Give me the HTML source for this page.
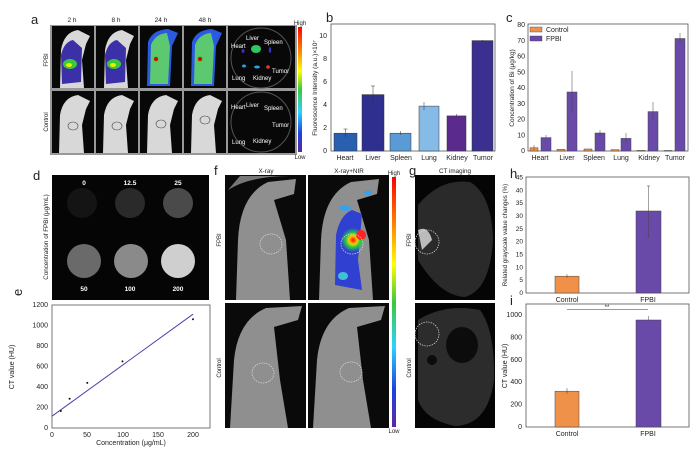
<!DOCTYPE html>
<html><head><meta charset="utf-8"><style>
html,body{margin:0;padding:0;background:#fff;}
svg{display:block;font-family:"Liberation Sans",Arial,sans-serif;}
</style></head><body>
<svg width="700" height="453" viewBox="0 0 700 453" xmlns="http://www.w3.org/2000/svg">
<defs>
<linearGradient id="cb" x1="0" y1="0" x2="0" y2="1">
<stop offset="0" stop-color="#ff0000"/><stop offset="0.2" stop-color="#ff8c00"/><stop offset="0.35" stop-color="#ffff00"/><stop offset="0.5" stop-color="#3cc83c"/><stop offset="0.68" stop-color="#2ad4ff"/><stop offset="0.85" stop-color="#2040e0"/><stop offset="1" stop-color="#5a2aa0"/>
</linearGradient>
<radialGradient id="hot" cx="0.5" cy="0.5" r="0.5"><stop offset="0" stop-color="#d00"/><stop offset="0.25" stop-color="#ff0"/><stop offset="0.5" stop-color="#3c3"/><stop offset="1" stop-color="#5c5" stop-opacity="0"/></radialGradient>
<radialGradient id="hot2" cx="0.5" cy="0.5" r="0.5"><stop offset="0" stop-color="#f00"/><stop offset="0.35" stop-color="#fc0"/><stop offset="0.6" stop-color="#2c4"/><stop offset="1" stop-color="#2c4" stop-opacity="0"/></radialGradient>
</defs>
<g font-size="7" fill="#222">
<!-- panel a -->
<text x="31" y="24" font-size="13">a</text>
<text x="72" y="22" text-anchor="middle" font-size="6.5">2 h</text>
<text x="116" y="22" text-anchor="middle" font-size="6.5">8 h</text>
<text x="161" y="22" text-anchor="middle" font-size="6.5">24 h</text>
<text x="205" y="22" text-anchor="middle" font-size="6.5">48 h</text>
<rect x="50" y="25" width="247" height="130" fill="#999"/>
<g fill="#080808">
<rect x="52" y="26" width="42" height="62"/><rect x="96" y="26" width="42" height="62"/><rect x="140" y="26" width="42" height="62"/><rect x="184" y="26" width="42" height="62"/><rect x="228" y="26" width="67" height="62"/>
<rect x="52" y="91" width="42" height="62"/><rect x="96" y="91" width="42" height="62"/><rect x="140" y="91" width="42" height="62"/><rect x="184" y="91" width="42" height="62"/><rect x="228" y="91" width="67" height="62"/>
</g>
<g fill="#d8d8d8">
<path d="M60 88 L61 50 Q64 32 78 30 L90 36 L86 44 L82 60 L84 88 Z"/>
<path d="M104 88 L105 50 Q108 32 122 30 L134 36 L130 44 L126 60 L128 88 Z"/>
<path d="M59 153 L60 115 Q63 97 78 95 L90 101 L86 109 L82 125 L84 153 Z"/>
<path d="M103 153 L104 115 Q107 97 122 95 L134 101 L130 109 L126 125 L128 153 Z"/>
<path d="M147 153 L148 115 Q151 97 166 95 L178 101 L174 109 L170 125 L172 153 Z"/>
<path d="M191 153 L192 115 Q195 97 210 95 L222 101 L218 109 L214 125 L216 153 Z"/>
</g>
<g fill="#3b30a8">
<path d="M62 84 L61 55 Q64 42 73 40 L82 48 L81 82 Z"/>
<path d="M106 84 L105 55 Q108 42 117 40 L126 48 L125 82 Z"/>
<path d="M147 86 L148 42 Q152 30 168 29 L178 33 L172 46 L170 86 Z" fill="#2a5ae0"/>
<path d="M191 86 L192 42 Q196 30 212 29 L222 33 L216 46 L214 86 Z" fill="#2a5ae0"/>
</g>
<ellipse cx="70" cy="64" rx="7" ry="5" fill="#3cc83c"/><ellipse cx="69" cy="65" rx="3" ry="2" fill="#ee0"/>
<ellipse cx="114" cy="64" rx="7" ry="5" fill="#3cc83c"/><ellipse cx="113" cy="65" rx="3" ry="2" fill="#ee0"/>
<path d="M150 84 L151 45 Q155 34 167 33 L170 46 L168 84 Z" fill="#5cc870"/>
<path d="M194 84 L195 45 Q199 34 211 33 L214 46 L212 84 Z" fill="#5cc870"/>
<circle cx="156" cy="59" r="4" fill="url(#hot)"/><circle cx="156" cy="59" r="2" fill="#d00"/>
<circle cx="200" cy="59" r="4" fill="url(#hot)"/><circle cx="200" cy="59" r="2" fill="#d00"/>
<g fill="none" stroke="#444" stroke-width="0.6">
<ellipse cx="73" cy="126" rx="5" ry="4"/><ellipse cx="117" cy="126" rx="5" ry="4"/><ellipse cx="161" cy="124" rx="5" ry="4"/><ellipse cx="205" cy="120" rx="5" ry="4"/>
</g>
<circle cx="261" cy="58" r="30" fill="none" stroke="#555" stroke-width="1"/>
<circle cx="261" cy="122" r="30" fill="none" stroke="#555" stroke-width="1"/>
<ellipse cx="256" cy="49" rx="5" ry="4" fill="#2ec860"/><ellipse cx="243" cy="51" rx="1.5" ry="2" fill="#3b30c0"/><ellipse cx="270" cy="50" rx="1.3" ry="3" fill="#3b30c0"/>
<ellipse cx="244" cy="66" rx="2" ry="1.5" fill="#2aa0e0"/><ellipse cx="257" cy="67" rx="3" ry="1.5" fill="#2aa0e0"/><circle cx="268" cy="67" r="1.8" fill="#e33"/>
<g fill="#fff" font-size="6">
<text x="246" y="40">Liver</text><text x="264" y="44">Spleen</text><text x="231" y="48">Heart</text><text x="272" y="73">Tumor</text><text x="232" y="80">Lung</text><text x="253" y="80">Kidney</text>
<text x="231" y="109">Heart</text><text x="246" y="107">Liver</text><text x="264" y="110">Spleen</text><text x="272" y="127">Tumor</text><text x="232" y="144">Lung</text><text x="253" y="143">Kidney</text>
</g>
<rect x="298" y="27" width="4" height="125" fill="url(#cb)"/>
<text x="300" y="25" text-anchor="middle" font-size="6">High</text>
<text x="300" y="159" text-anchor="middle" font-size="6">Low</text>
<text transform="translate(48,60) rotate(-90)" text-anchor="middle" font-size="6">FPBI</text>
<text transform="translate(48,122) rotate(-90)" text-anchor="middle" font-size="6">Control</text>

<!-- panel b -->
<text x="326" y="22" font-size="13">b</text>
<rect x="331" y="24" width="164" height="127" fill="none" stroke="#555" stroke-width="0.8"/>
<g font-size="7" text-anchor="end">
<text x="327" y="153">0</text><text x="327" y="130">2</text><text x="327" y="107">4</text><text x="327" y="84">6</text><text x="327" y="61">8</text><text x="327" y="38">10</text>
</g>
<text transform="translate(317,88) rotate(-90)" text-anchor="middle" font-size="6.5">Fluorescence Intensity (a.u.)×10⁷</text>
<g stroke="#333" stroke-width="0.5">
<rect x="334" y="133.2" width="23" height="17.8" fill="#2a5fb0"/>
<rect x="362" y="94.6" width="22" height="56.4" fill="#2e2f8e"/>
<rect x="390" y="133.2" width="21" height="17.8" fill="#5b9bd5"/>
<rect x="419" y="106.1" width="20" height="44.9" fill="#85bbe6"/>
<rect x="447" y="115.9" width="19" height="35.1" fill="#5a2a8c"/>
<rect x="472" y="40.6" width="21" height="110.4" fill="#3b2f8f"/>
<path d="M345.5 129v8M343.5 129h4M373 86v17M371 86h4M400.5 131v4M424 102v8M456.5 114v3M482.5 40v2"/>
</g>
<g font-size="7" text-anchor="middle">
<text x="345" y="160">Heart</text><text x="373" y="160">Liver</text><text x="401" y="160">Spleen</text><text x="429" y="160">Lung</text><text x="457" y="160">Kidney</text><text x="483" y="160">Tumor</text>
</g>

<!-- panel c -->
<text x="506" y="22" font-size="13">c</text>
<rect x="528" y="24" width="160" height="127" fill="none" stroke="#555" stroke-width="0.8"/>
<g font-size="7" text-anchor="end">
<text x="525" y="153">0</text><text x="525" y="137.5">10</text><text x="525" y="121.6">20</text><text x="525" y="106">30</text><text x="525" y="90">40</text><text x="525" y="74.5">50</text><text x="525" y="58.7">60</text><text x="525" y="43">70</text><text x="525" y="27">80</text>
</g>
<text transform="translate(514,88) rotate(-90)" text-anchor="middle" font-size="6.5">Concentration of Bi (μg/kg)</text>
<g stroke="#444" stroke-width="0.5">
<rect x="530" y="147.8" width="8" height="3.2" fill="#f0914a"/>
<rect x="557" y="149.4" width="8" height="1.6" fill="#f0914a"/>
<rect x="584" y="149" width="8" height="2" fill="#f0914a"/>
<rect x="611" y="149.7" width="8" height="1.3" fill="#f0914a"/>
<rect x="637" y="150.4" width="8" height="0.6" fill="#f0914a"/>
<rect x="664" y="150.5" width="8" height="0.5" fill="#f0914a"/>
<rect x="541" y="137.6" width="10" height="13.4" fill="#6a4aa8"/>
<rect x="567" y="92" width="10" height="59" fill="#6a4aa8"/>
<rect x="595" y="133" width="10" height="18" fill="#6a4aa8"/>
<rect x="621" y="138.4" width="10" height="12.6" fill="#6a4aa8"/>
<rect x="648" y="111.6" width="10" height="39.4" fill="#6a4aa8"/>
<rect x="675" y="38.5" width="10" height="112.5" fill="#6a4aa8"/>
<path d="M546 135v4M572 71v42M600 130v6M626 133v10M653 102v19M680 33v10M534 145v5"/>
</g>
<rect x="530" y="27" width="12" height="5" fill="#f0914a" stroke="#444" stroke-width="0.4"/><text x="546" y="32" font-size="7">Control</text>
<rect x="530" y="36" width="12" height="5" fill="#6a4aa8" stroke="#444" stroke-width="0.4"/><text x="546" y="41" font-size="7">FPBI</text>
<g font-size="7" text-anchor="middle">
<text x="540" y="160">Heart</text><text x="567" y="160">Liver</text><text x="594" y="160">Spleen</text><text x="621" y="160">Lung</text><text x="649" y="160">Kidney</text><text x="675" y="160">Tumor</text>
</g>

<!-- panel d -->
<text x="33" y="180" font-size="13">d</text>
<rect x="52" y="175" width="157" height="125" fill="#050505"/>
<circle cx="82" cy="203" r="15" fill="#141414"/>
<circle cx="130" cy="203" r="15" fill="#2a2a2a"/>
<circle cx="178" cy="203" r="15" fill="#4a4a4a"/>
<circle cx="84" cy="261" r="17" fill="#6a6a6a"/>
<circle cx="131" cy="261" r="17" fill="#8a8a8a"/>
<circle cx="178" cy="261" r="17" fill="#cfcfcf"/>
<g fill="#fff" font-size="6.5" font-weight="bold" text-anchor="middle">
<text x="84" y="185">0</text><text x="130" y="185">12.5</text><text x="178" y="185">25</text>
<text x="84" y="291">50</text><text x="130" y="291">100</text><text x="178" y="291">200</text>
</g>
<text transform="translate(48,237) rotate(-90)" text-anchor="middle" font-size="6.3">Concentration of FPBI  (μg/mL)</text>

<!-- panel e -->
<text transform="translate(22,296) rotate(-90)" font-size="13">e</text>
<rect x="52" y="305" width="158" height="123" fill="none" stroke="#555" stroke-width="0.8"/>
<g font-size="7" text-anchor="end">
<text x="48" y="430">0</text><text x="48" y="409.5">200</text><text x="48" y="389">400</text><text x="48" y="368.5">600</text><text x="48" y="348">800</text><text x="48" y="327.5">1000</text><text x="48" y="307">1200</text>
</g>
<g font-size="7" text-anchor="middle">
<text x="52" y="437">0</text><text x="87" y="437">50</text><text x="123" y="437">100</text><text x="158" y="437">150</text><text x="193" y="437">200</text>
</g>
<text x="131" y="445" text-anchor="middle" font-size="7">Concentration (μg/mL)</text>
<text transform="translate(14,367) rotate(-90)" text-anchor="middle" font-size="7">CT value (HU)</text>
<line x1="52" y1="416.2" x2="193" y2="314.2" stroke="#4b3fb0" stroke-width="1"/>
<g fill="#111"><circle cx="60.8" cy="411" r="1"/><circle cx="69.6" cy="398.8" r="1"/><circle cx="87.3" cy="382.9" r="1"/><circle cx="122.5" cy="361.4" r="1"/><circle cx="193" cy="319.3" r="1"/></g>

<!-- panel f -->
<text x="214" y="175" font-size="13">f</text>
<text x="266" y="173" text-anchor="middle" font-size="6.3">X-ray</text>
<text x="349" y="173" text-anchor="middle" font-size="6.3">X-ray+NIR</text>
<g fill="#0a0a0a"><rect x="225" y="175" width="81" height="125"/><rect x="308" y="175" width="81" height="125"/><rect x="225" y="303" width="81" height="125"/><rect x="308" y="303" width="81" height="125"/></g>
<g fill="#8f8f8f">
<path d="M236 300 L238 240 Q240 195 268 182 L296 179 L294 194 L274 200 L286 240 L290 300 Z"/>
<path d="M319 300 L321 240 Q323 195 351 182 L379 179 L377 194 L357 200 L369 240 L373 300 Z"/>
<path d="M230 428 L234 360 Q238 320 266 308 L302 306 L298 320 L274 327 L280 380 L288 428 Z"/>
<path d="M313 428 L317 360 Q321 320 349 308 L385 306 L381 320 L357 327 L363 380 L371 428 Z"/>
</g>
<path d="M228 190 Q250 176 290 176 L240 176 Z" fill="#777"/>
<path d="M335 285 L336 235 Q340 215 352 210 L362 214 L358 260 L362 290 Z" fill="#3040d0"/>
<ellipse cx="353" cy="240" rx="12" ry="12" fill="url(#hot2)"/>
<ellipse cx="361" cy="235" rx="5" ry="5" fill="#f22"/>
<ellipse cx="343" cy="276" rx="5" ry="4" fill="#40c0d0"/>
<ellipse cx="345" cy="208" rx="6" ry="3" fill="#3aa0e8"/>
<ellipse cx="368" cy="193" rx="4" ry="2.5" fill="#3aa0e8"/>
<g fill="none" stroke="#ddd" stroke-width="0.7" stroke-dasharray="1.5,1">
<ellipse cx="271" cy="244" rx="11" ry="10"/><ellipse cx="352" cy="244" rx="11" ry="10"/>
<ellipse cx="263" cy="373" rx="11" ry="10"/><ellipse cx="351" cy="372" rx="11" ry="10"/>
</g>
<rect x="392" y="177" width="4" height="250" fill="url(#cb)"/>
<text x="394" y="175" text-anchor="middle" font-size="6">High</text>
<text x="394" y="433" text-anchor="middle" font-size="6">Low</text>
<text transform="translate(221,240) rotate(-90)" text-anchor="middle" font-size="6">FPBI</text>
<text transform="translate(221,368) rotate(-90)" text-anchor="middle" font-size="6">Control</text>

<!-- panel g -->
<text x="409" y="175" font-size="13">g</text>
<text x="455" y="173" text-anchor="middle" font-size="6.3">CT imaging</text>
<rect x="415" y="175" width="80" height="125" fill="#050505"/>
<rect x="415" y="303" width="80" height="125" fill="#050505"/>
<path d="M418 205 Q440 178 470 182 Q492 195 493 240 Q490 290 465 297 Q440 296 418 260 Z" fill="#2a2a2a"/>
<path d="M418 320 Q445 303 480 310 Q495 330 494 380 Q488 425 455 426 Q425 420 418 400 Z" fill="#2c2c2c"/>
<ellipse cx="462" cy="345" rx="16" ry="18" fill="#0c0c0c"/>
<ellipse cx="432" cy="360" rx="5" ry="5" fill="#0c0c0c"/>
<path d="M418 230 Q428 225 432 240 L422 250 Z" fill="#bbb"/>
<g fill="none" stroke="#ddd" stroke-width="0.7" stroke-dasharray="1.5,1"><circle cx="427" cy="242" r="12"/><circle cx="427" cy="334" r="12"/></g>
<text transform="translate(411,240) rotate(-90)" text-anchor="middle" font-size="6">FPBI</text>
<text transform="translate(411,368) rotate(-90)" text-anchor="middle" font-size="6">Control</text>

<!-- panel h -->
<text x="510" y="178" font-size="13">h</text>
<rect x="526" y="177" width="163" height="116" fill="none" stroke="#555" stroke-width="0.8"/>
<g font-size="6.5" text-anchor="end">
<text x="523" y="295">0</text><text x="523" y="282">5</text><text x="523" y="269.5">10</text><text x="523" y="256.5">15</text><text x="523" y="243.5">20</text><text x="523" y="231">25</text><text x="523" y="218">30</text><text x="523" y="205">35</text><text x="523" y="192.5">40</text><text x="523" y="179.5">45</text>
</g>
<text transform="translate(507,235) rotate(-90)" text-anchor="middle" font-size="6.2">Related grayscale value changes (%)</text>
<rect x="555" y="276.2" width="24" height="16.8" fill="#f0914a" stroke="#444" stroke-width="0.5"/>
<rect x="636" y="211" width="25" height="82" fill="#6a4aa8" stroke="#444" stroke-width="0.5"/>
<path d="M567 274v4M648.5 186v51M647 186h3M647 237h3" stroke="#444" stroke-width="0.5"/>
<g font-size="7" text-anchor="middle"><text x="567" y="302">Control</text><text x="648" y="302">FPBI</text></g>

<!-- panel i -->
<text x="510" y="305" font-size="13">i</text>
<rect x="526" y="304" width="163" height="123" fill="none" stroke="#555" stroke-width="0.8"/>
<g font-size="7" text-anchor="end">
<text x="522" y="429">0</text><text x="522" y="406.6">200</text><text x="522" y="384.2">400</text><text x="522" y="361.8">600</text><text x="522" y="339.4">800</text><text x="522" y="317">1000</text>
</g>
<text transform="translate(507,366) rotate(-90)" text-anchor="middle" font-size="7">CT value (HU)</text>
<rect x="555" y="391.2" width="24" height="35.8" fill="#f0914a" stroke="#444" stroke-width="0.5"/>
<rect x="636" y="320" width="25" height="107" fill="#6a4aa8" stroke="#444" stroke-width="0.5"/>
<path d="M567 388v6M648.5 316v4" stroke="#444" stroke-width="0.5"/>
<line x1="567" y1="309.5" x2="648" y2="309.5" stroke="#333" stroke-width="0.6"/>
<text x="607" y="309" text-anchor="middle" font-size="6">**</text>
<g font-size="7" text-anchor="middle"><text x="567" y="436">Control</text><text x="648" y="436">FPBI</text></g>
</g>
</svg>
</body></html>
